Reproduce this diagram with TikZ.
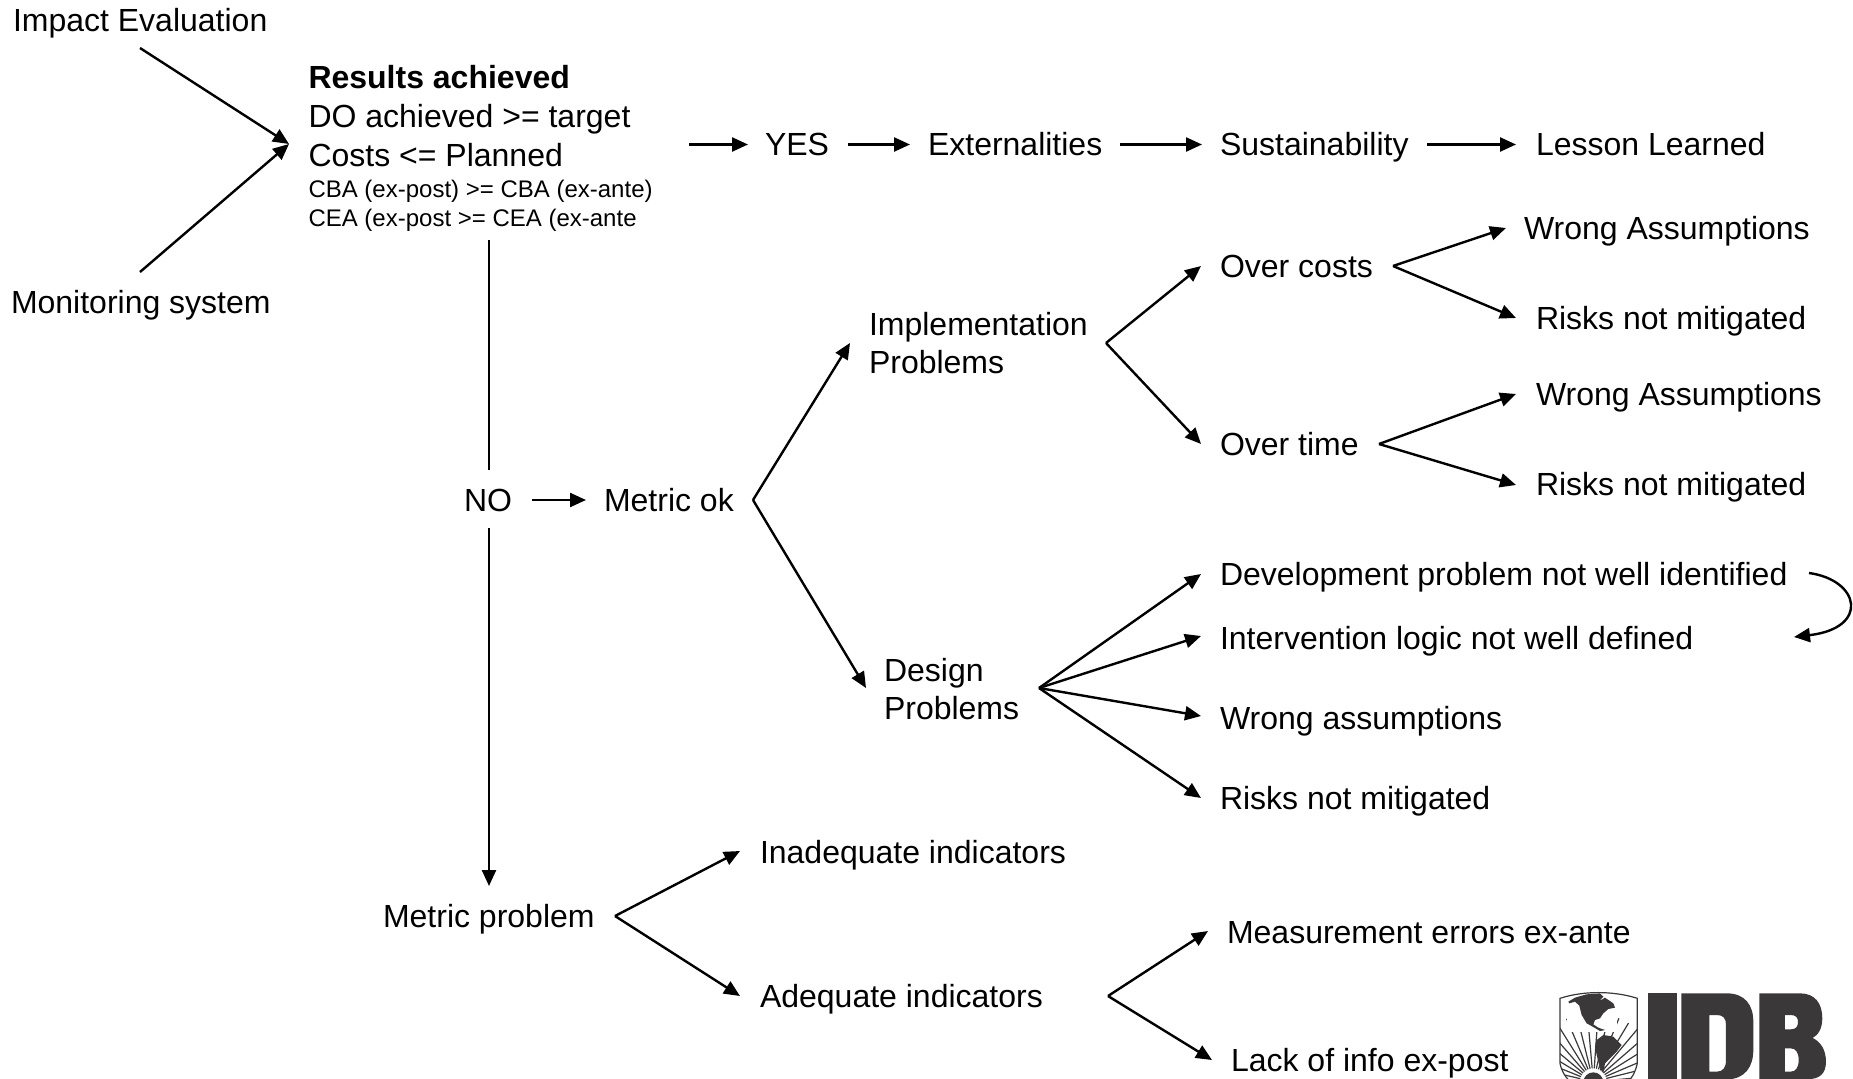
\documentclass[tikz,border=0pt]{standalone}
\usepackage{fontspec}
\setmainfont{Liberation Sans}
\usetikzlibrary{arrows.meta}
\definecolor{logo}{HTML}{3A3839}
\tikzset{
  x=1pt,y=-1pt,
  lbl/.style={anchor=base west,inner sep=0pt,outer sep=0pt,font=\fontsize{32}{38}\selectfont},
  small/.style={lbl,font=\fontsize{24}{30}\selectfont},
  boldlbl/.style={lbl,font=\fontsize{32}{38}\selectfont\bfseries},
  link/.style={line width=2.4pt,black},
  arr/.style={link,-{Triangle[length=16pt,width=14pt]}}
}
\begin{document}
\begin{tikzpicture}
\useasboundingbox (0,0) rectangle (1853,1079);
% labels
\node[lbl] (impact) at (13,31) {Impact Evaluation};
\node[lbl] (monitor) at (11,313) {Monitoring system};
\node[boldlbl] (results) at (308.5,88.5) {Results achieved};
\node[lbl] (do) at (308.5,127) {DO achieved >= target};
\node[lbl] (costs) at (308.5,166) {Costs <= Planned};
\node[small] (cba) at (308.5,197) {CBA (ex-post) >= CBA (ex-ante)};
\node[small] (cea) at (308.5,226) {CEA (ex-post >= CEA (ex-ante};
\node[lbl] (yes) at (765,155) {YES};
\node[lbl] (ext) at (928,155) {Externalities};
\node[lbl] (sus) at (1220,155) {Sustainability};
\node[lbl] (les) at (1536,155) {Lesson Learned};
\node[lbl] (wa1) at (1524,239) {Wrong Assumptions};
\node[lbl] (oc) at (1220,277) {Over costs};
\node[lbl] (r1) at (1536,329) {Risks not mitigated};
\node[lbl] (impl) at (869,335) {Implementation};
\node[lbl] (implb) at (869,373) {Problems};
\node[lbl] (wa2) at (1536,405) {Wrong Assumptions};
\node[lbl] (ot) at (1220,455) {Over time};
\node[lbl] (r2) at (1536,495) {Risks not mitigated};
\node[lbl] (no) at (464,511) {NO};
\node[lbl] (mok) at (604,511) {Metric ok};
\node[lbl] (dev) at (1220,585) {Development problem not well identified};
\node[lbl] (int) at (1220,649) {Intervention logic not well defined};
\node[lbl] (des) at (884,681) {Design};
\node[lbl] (desb) at (884,719) {Problems};
\node[lbl] (wa3) at (1220,729) {Wrong assumptions};
\node[lbl] (r3) at (1220,809) {Risks not mitigated};
\node[lbl] (ina) at (760,863) {Inadequate indicators};
\node[lbl] (mp) at (383,927) {Metric problem};
\node[lbl] (mea) at (1227,943) {Measurement errors ex-ante};
\node[lbl] (ade) at (760,1007) {Adequate indicators};
\node[lbl] (lack) at (1231,1071) {Lack of info ex-post};
% connectors
\draw[arr] ([shift={(127,17)}]impact.base west) -- ([shift={(-19.5,-22)}]costs.base west);
\draw[arr] ([shift={(129,-41)}]monitor.base west) -- ([shift={(-19.5,-22)}]costs.base west);
\draw[link] ([shift={(180.5,14)}]cea.base west) -- ([shift={(25,-41)}]no.base west);
\draw[arr] ([shift={(25,17)}]no.base west) -- ([shift={(106,-41)}]mp.base west);
\draw[arr] ([shift={(68,-11)}]no.base west) -- ([shift={(-18,-11)}]mok.base west);
\draw[arr] ([shift={(380.5,-21.5)}]costs.base west) -- ([shift={(-17,-10.5)}]yes.base west);
\draw[arr] ([shift={(83,-10.5)}]yes.base west) -- ([shift={(-18,-10.5)}]ext.base west);
\draw[arr] ([shift={(192,-10.5)}]ext.base west) -- ([shift={(-18,-10.5)}]sus.base west);
\draw[arr] ([shift={(207,-10.5)}]sus.base west) -- ([shift={(-20,-10.5)}]les.base west);
\draw[arr] ([shift={(149,-11)}]mok.base west) -- ([shift={(-19,8)}]impl.base west);
\draw[arr] ([shift={(149,-11)}]mok.base west) -- ([shift={(-18,7)}]des.base west);
\draw[arr] ([shift={(237,8)}]impl.base west) -- ([shift={(-19,-11)}]oc.base west);
\draw[arr] ([shift={(237,8)}]impl.base west) -- ([shift={(-19,-11)}]ot.base west);
\draw[arr] ([shift={(173,-11)}]oc.base west) -- ([shift={(-18,-11)}]wa1.base west);
\draw[arr] ([shift={(173,-11)}]oc.base west) -- ([shift={(-20,-11)}]r1.base west);
\draw[arr] ([shift={(159,-11)}]ot.base west) -- ([shift={(-20,-11)}]wa2.base west);
\draw[arr] ([shift={(159,-11)}]ot.base west) -- ([shift={(-20,-10)}]r2.base west);
\draw[arr] ([shift={(155,7)}]des.base west) -- ([shift={(-19,-11)}]dev.base west);
\draw[arr] ([shift={(155,7)}]des.base west) -- ([shift={(-19,-13)}]int.base west);
\draw[arr] ([shift={(155,7)}]des.base west) -- ([shift={(-19,-13)}]wa3.base west);
\draw[arr] ([shift={(155,7)}]des.base west) -- ([shift={(-19,-11)}]r3.base west);
\draw[arr] ([shift={(232,-11)}]mp.base west) -- ([shift={(-20,-12)}]ina.base west);
\draw[arr] ([shift={(232,-11)}]mp.base west) -- ([shift={(-20,-11)}]ade.base west);
\draw[arr] ([shift={(348,-11)}]ade.base west) -- ([shift={(-19,-12)}]mea.base west);
\draw[arr] ([shift={(348,-11)}]ade.base west) -- ([shift={(-19,-11)}]lack.base west);
\draw[arr] ([shift={(589,-12)}]dev.base west) .. controls ([shift={(640,-5)}]dev.base west) and ([shift={(650,-21)}]int.base west) .. ([shift={(574,-12)}]int.base west);
% IDB logo (origin 1500,950; 3 units per pixel)
\begin{scope}[shift={(1500,950)},x=0.3333pt,y=-0.3333pt]
\clip (0,0) rectangle (1059,387);
\fill[logo] (443,130) rectangle (530,400);
\fill[logo,even odd rule] (544,130) -- (680,130) .. controls (735,130) and (760,165) .. (760,215) -- (760,300) .. controls (760,350) and (735,388) .. (680,388) -- (544,388) -- cycle
  (628,195) -- (628,365) -- (650,365) .. controls (670,365) and (678,352) .. (678,330) -- (678,225) .. controls (678,205) and (670,195) .. (650,195) -- cycle;
\fill[logo,even odd rule] (778,130) -- (900,130) .. controls (945,130) and (967,160) .. (967,205) .. controls (967,235) and (955,255) .. (938,264) .. controls (962,275) and (978,300) .. (978,335) .. controls (978,370) and (960,388) .. (920,388) -- (778,388) -- cycle
  (855,195) -- (855,238) -- (872,238) .. controls (888,238) and (894,230) .. (894,216) .. controls (894,203) and (888,195) .. (872,195) -- cycle
  (855,295) -- (855,365) -- (872,365) .. controls (888,365) and (896,352) .. (896,330) .. controls (896,308) and (888,295) .. (872,295) -- cycle;
% shield
\begin{scope}
\clip (180,145) .. controls (250,122) and (340,122) .. (412,145) -- (412,340) .. controls (405,370) and (395,385) .. (380,400) -- (215,400) .. controls (195,380) and (185,365) .. (180,340) -- cycle;
\foreach \a in {4,13,...,176} {\draw[logo,line width=1.2pt] (\a:-40) ++(280,395) -- ++(\a:-165);}
\fill[logo] (280,397) circle (30);
\begin{scope}[shift={(150,105)}]
\fill[white] (50,20) rectangle (200,140);
\fill[logo] (55,50) -- (75,38) -- (110,28) -- (150,25) -- (160,35) -- (148,48) -- (165,38) -- (190,55) -- (195,68) -- (175,72) -- (160,85) -- (150,100) -- (135,105) -- (130,118) -- (145,128) -- (165,135) -- (150,138) -- (128,125) -- (110,115) -- (95,90) -- (88,62) -- (75,50) -- (58,55) -- cycle;
\fill[logo] (140,165) -- (160,150) -- (190,155) -- (215,180) -- (200,200) -- (185,215) -- (165,235) -- (160,265) -- (150,250) -- (140,210) -- (135,185) -- cycle;
\end{scope}
\end{scope}
\draw[logo,line width=1.2pt] (180,340) -- (180,145) .. controls (250,122) and (340,122) .. (412,145) -- (412,340) .. controls (405,370) and (395,385) .. (380,400);
\draw[logo,line width=1.2pt] (180,340) .. controls (185,365) and (195,380) .. (215,400);
\end{scope}
\end{tikzpicture}
\end{document}
